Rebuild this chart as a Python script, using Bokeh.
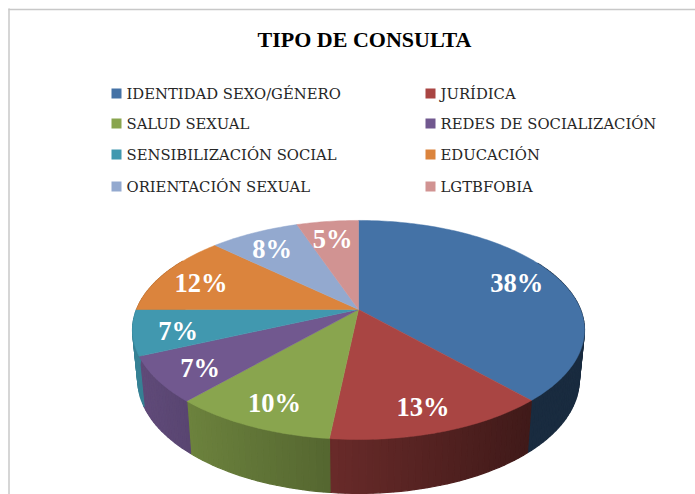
import math
from bokeh.plotting import figure
from bokeh.core.properties import value
from bokeh.embed import file_html
from bokeh.resources import INLINE

title = "TIPO DE CONSULTA"
categories = ["IDENTIDAD SEXO/GÉNERO", "JURÍDICA", "SALUD SEXUAL", "REDES DE SOCIALIZACIÓN",
              "SENSIBILIZACIÓN SOCIAL", "EDUCACIÓN", "ORIENTACIÓN SEXUAL", "LGTBFOBIA"]
shares = [38.3, 13.4, 9.9, 6.7, 6.7, 12.0, 7.7, 5.3]
colors = ["#4472A6", "#A94543", "#89A54E", "#71588F", "#4198AF", "#DB843D", "#93A9CF", "#D19392"]

# page-pixel data space
W, H = 695, 494
p = figure(width=W, height=H, x_range=(0, W), y_range=(H, 0),
           output_backend="svg", toolbar_location=None, min_border=0,
           x_axis_type=None, y_axis_type=None)
p.grid.visible = False
p.outline_line_color = None
p.background_fill_color = "white"
p.border_fill_color = "white"

# perspective projection of the pie disc
CX, CY, A, B, K = 358.0, 309.0, 222.0, 105.7, 0.187
ELL_CY, SX, SY, LOW_CY = 329.5, 0.977, 1.04, 379.0

def top(theta, r=1.0):
    t = math.radians(theta)
    u, v = r * math.sin(t), r * math.cos(t)
    w = 1 + K * v
    return CX + A * u / w, CY - B * v / w

def low(theta):
    x, y = top(theta)
    return CX + SX * (x - CX), LOW_CY + SY * (y - ELL_CY)

def shade(col, x):
    m = max(0.38, min(0.86, 0.85 - 0.47 * (x - 140) / 390))
    rgb = [int(col[i:i + 2], 16) for i in (1, 3, 5)]
    return "#%02x%02x%02x" % tuple(int(c * m) for c in rgb)

bounds = [0.0]
for s in shares:
    bounds.append(bounds[-1] + s)
total = bounds[-1]
angs = [b / total * 360 for b in bounds]

# side wall
wx, wy, wc = [], [], []
for i, col in enumerate(colors):
    a0, a1 = angs[i], angs[i + 1]
    a = a0
    while a < a1:
        b = min(a + 1.5, a1)
        if 60 < a < 300:
            x0, y0 = top(a); x1, y1 = top(b)
            x2, y2 = low(b); x3, y3 = low(a)
            wx.append([x0, x1, x2, x3]); wy.append([y0, y1, y2, y3])
            wc.append(shade(col, (x0 + x1 + x2 + x3) / 4))
        a = b
p.patches(wx, wy, fill_color=wc, line_color=wc, line_width=1.2)

# top face
fx, fy = [], []
for i in range(len(shares)):
    n = max(2, int(angs[i + 1] - angs[i]))
    pts = [top(angs[i] + (angs[i + 1] - angs[i]) * j / n) for j in range(n + 1)]
    fx.append([CX] + [q[0] for q in pts])
    fy.append([CY] + [q[1] for q in pts])
p.patches(fx, fy, fill_color=colors, line_color=colors, line_width=0.5)

# percentage labels
lx, ly, lt = [], [], []
for i, s in enumerate(shares):
    x, y = top((angs[i] + angs[i + 1]) / 2, 0.805)
    lx.append(x); ly.append(y + 3); lt.append(f"{round(s / total * 100)}%")
p.text(lx, ly, text=lt, text_color="white", text_font=value("Liberation Serif"),
       text_font_style="bold", text_font_size="26.5px", text_align="center", text_baseline="middle")

# title
p.text([364], [39], text=[title], text_color="black", text_font=value("Liberation Serif"),
       text_font_style="bold", text_font_size="22px", text_align="center", text_baseline="middle")

# legend
rows = [93, 123, 154, 186]
cols = [116, 430]
sx, sy, tx, ty = [], [], [], []
for i in range(len(categories)):
    c, r = i % 2, i // 2
    sx.append(cols[c]); sy.append(rows[r]); tx.append(cols[c] + 10); ty.append(rows[r])
p.scatter(sx, sy, marker="square", size=10, fill_color=colors, line_color=None)
p.text(tx, ty, text=categories, text_color="#262626", text_font=value("DejaVu Serif"),
       text_font_size="14.8px", text_align="left", text_baseline="middle")

# frame lines (top and left only)
p.segment([8, 8.5], [9, 8], [695, 8.5], [9, 494], line_color="#C8C8C8", line_width=1.5)

open("out.html", "w").write(file_html(p, INLINE))
